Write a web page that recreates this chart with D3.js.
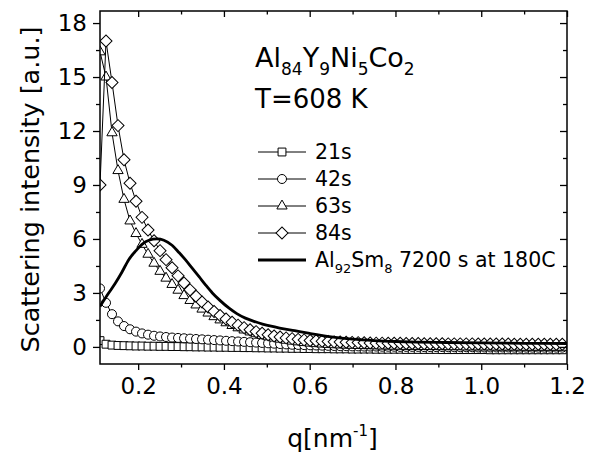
<!DOCTYPE html>
<html>
<head>
<meta charset="utf-8">
<script src="https://cdn.jsdelivr.net/npm/d3@7"></script>
<style>
  body { margin: 0; background: #fff; }
  text { font-family: "DejaVu Sans", Verdana, sans-serif; fill: #000; }
</style>
</head>
<body>
<div class="vis-saxs"></div>
<script>
// q grid shared by the four measured series
const qGrid = [0.111, 0.125, 0.139, 0.153, 0.167, 0.181, 0.195, 0.209, 0.223, 0.237,
  0.251, 0.265, 0.279, 0.293, 0.307, 0.321, 0.335, 0.349, 0.363, 0.377,
  0.391, 0.405, 0.419, 0.433, 0.447, 0.461, 0.475, 0.489, 0.503, 0.517,
  0.531, 0.545, 0.559, 0.573, 0.587, 0.601, 0.615, 0.629, 0.643, 0.657,
  0.671, 0.685, 0.699, 0.713, 0.727, 0.741, 0.755, 0.769, 0.783, 0.797,
  0.811, 0.825, 0.839, 0.853, 0.867, 0.881, 0.895, 0.909, 0.923, 0.937,
  0.951, 0.965, 0.979, 0.993, 1.007, 1.021, 1.035, 1.049, 1.063, 1.077,
  1.091, 1.105, 1.119, 1.133, 1.147, 1.161, 1.175, 1.189];

const s21 = [0.35, 0.15, 0.1, 0.08, 0.07, 0.06, 0.05, 0.05, 0.04, 0.04,
  0.03, 0.03, 0.02, 0.02, 0.01, 0.01, 0.0, 0.0, -0.01, -0.01,
  -0.02, -0.02, -0.03, -0.03, -0.04, -0.04, -0.05, -0.05, -0.06, -0.06,
  -0.07, -0.07, -0.08, -0.08, -0.09, -0.09, -0.1, -0.1, -0.1, -0.11,
  -0.11, -0.11, -0.12, -0.12, -0.12, -0.12, -0.13, -0.13, -0.13, -0.13,
  -0.13, -0.14, -0.14, -0.14, -0.14, -0.14, -0.14, -0.15, -0.15, -0.15,
  -0.15, -0.15, -0.15, -0.15, -0.15, -0.16, -0.16, -0.16, -0.16, -0.16,
  -0.16, -0.16, -0.16, -0.16, -0.16, -0.16, -0.16, -0.16];

const s42 = [3.25, 2.45, 1.82, 1.42, 1.16, 0.98, 0.85, 0.75, 0.68, 0.62,
  0.58, 0.55, 0.52, 0.5, 0.48, 0.46, 0.44, 0.42, 0.4, 0.38,
  0.36, 0.34, 0.32, 0.3, 0.28, 0.26, 0.24, 0.22, 0.2, 0.18,
  0.16, 0.14, 0.12, 0.11, 0.1, 0.09, 0.08, 0.07, 0.06, 0.05,
  0.04, 0.04, 0.03, 0.03, 0.02, 0.02, 0.02, 0.01, 0.01, 0.01,
  0.0, 0.0, 0.0, 0.0, -0.01, -0.01, -0.01, -0.01, -0.02, -0.02,
  -0.02, -0.02, -0.02, -0.03, -0.03, -0.03, -0.03, -0.03, -0.03, -0.04,
  -0.04, -0.04, -0.04, -0.04, -0.04, -0.04, -0.04, -0.04];

const s63 = [16.4, 15.0, 11.9, 9.8, 8.2, 7.0, 6.3, 5.7, 5.15, 4.65,
  4.2, 3.82, 3.47, 3.15, 2.85, 2.58, 2.33, 2.1, 1.88, 1.68,
  1.5, 1.34, 1.19, 1.06, 0.94, 0.83, 0.73, 0.64, 0.56, 0.49,
  0.43, 0.37, 0.32, 0.28, 0.24, 0.21, 0.18, 0.16, 0.14, 0.12,
  0.11, 0.1, 0.09, 0.08, 0.07, 0.07, 0.06, 0.05, 0.05, 0.04,
  0.04, 0.03, 0.03, 0.03, 0.02, 0.02, 0.02, 0.01, 0.01, 0.01,
  0.01, 0.0, 0.0, 0.0, 0.0, 0.0, -0.01, -0.01, -0.01, -0.01,
  -0.01, -0.02, -0.02, -0.02, -0.02, -0.02, -0.02, -0.02];

const s84 = [9.0, 17.0, 14.7, 12.3, 10.4, 9.1, 8.1, 7.2, 6.5, 5.9,
  5.35, 4.85, 4.4, 3.95, 3.55, 3.17, 2.82, 2.5, 2.22, 1.97,
  1.75, 1.55, 1.37, 1.21, 1.07, 0.95, 0.85, 0.76, 0.68, 0.61,
  0.55, 0.5, 0.46, 0.42, 0.39, 0.36, 0.34, 0.32, 0.3, 0.28,
  0.27, 0.26, 0.25, 0.24, 0.23, 0.22, 0.21, 0.21, 0.2, 0.2,
  0.2, 0.19, 0.19, 0.19, 0.18, 0.18, 0.18, 0.18, 0.17, 0.17,
  0.17, 0.17, 0.17, 0.16, 0.16, 0.16, 0.16, 0.16, 0.16, 0.15,
  0.15, 0.15, 0.15, 0.15, 0.15, 0.15, 0.15, 0.15];

// Al92Sm8 reference curve
const qAl = [0.111, 0.13, 0.147, 0.162, 0.178, 0.195, 0.209, 0.225, 0.244, 0.26,
  0.279, 0.295, 0.31, 0.325, 0.342, 0.357, 0.373, 0.39, 0.412, 0.43,
  0.45, 0.47, 0.49, 0.51, 0.53, 0.565, 0.6, 0.65, 0.7, 0.75,
  0.8, 0.85, 0.9, 1.0, 1.1, 1.2];
const iAl = [2.25, 2.95, 3.55, 4.15, 4.85, 5.35, 5.7, 5.93, 6.0, 5.93,
  5.65, 5.25, 4.85, 4.4, 3.9, 3.45, 3.0, 2.6, 2.15, 1.85,
  1.6, 1.42, 1.27, 1.15, 1.05, 0.9, 0.75, 0.56, 0.43, 0.35,
  0.3, 0.27, 0.25, 0.22, 0.2, 0.19];

const seriesNames = ['21s', '42s', '63s', '84s'];
const xTicks = [0.2, 0.4, 0.6, 0.8, 1.0, 1.2];
const yTicks = [0, 3, 6, 9, 12, 15, 18];

const W = 595, H = 455;
const margin = { top: 11, right: 28, bottom: 91, left: 100 };
const width = W - margin.left - margin.right;
const height = H - margin.top - margin.bottom;

const svg = d3.select('.vis-saxs')
    .append('svg')
    .attr('width', W)
    .attr('height', H)
    .append('g')
    .attr('transform', 'translate(' + margin.left + ',' + margin.top + ')');

const x = d3.scaleLinear().domain([0.111, 1.2]).range([0, width]);
const y = d3.scaleLinear().domain([-0.95, 18.67]).range([height, 0]);

// marker shapes
const markers = [
    { type: d3.symbolSquare, size: 62, rot: 0 },
    { type: d3.symbolCircle, size: 64, rot: 0 },
    { type: d3.symbolTriangle, size: 46, rot: 0 },
    { type: d3.symbolSquare, size: 72, rot: 45 }
];

svg.append('defs').append('clipPath')
    .attr('id', 'plotclip')
    .append('rect')
    .attr('width', width)
    .attr('height', height);

const plot = svg.append('g').attr('clip-path', 'url(#plotclip)');

const lineGen = d3.line()
    .x(d => x(d[0]))
    .y(d => y(d[1]));

[s21, s42, s63, s84].forEach((vals, i) => {
    const pts = qGrid.map((q, k) => [q, vals[k]]);
    const g = plot.append('g').attr('class', 'series_' + i);
    g.append('path')
        .attr('d', lineGen(pts))
        .attr('fill', 'none')
        .attr('stroke', '#000')
        .attr('stroke-width', 1);
    g.selectAll('.dot')
        .data(pts)
        .join('path')
        .attr('class', 'dot')
        .attr('transform', d => 'translate(' + x(d[0]) + ',' + y(d[1]) + ')rotate(' + markers[i].rot + ')')
        .attr('d', d3.symbol().type(markers[i].type).size(markers[i].size))
        .attr('fill', '#fff')
        .attr('stroke', '#000')
        .attr('stroke-width', 1);
});

plot.append('path')
    .attr('d', d3.line().x(d => x(d[0])).y(d => y(d[1])).curve(d3.curveMonotoneX)(qAl.map((q, k) => [q, iAl[k]])))
    .attr('fill', 'none')
    .attr('stroke', '#000')
    .attr('stroke-width', 2.8);

// axes
const fmt = d3.format('.1f');
const xMinor = d3.range(0.2, 1.21, 0.1).filter(v => Math.abs(v * 10 % 2 - 1) < 0.01);
const yMinor = d3.range(1.5, 18, 3);

svg.append('g')
    .attr('transform', 'translate(0,' + height + ')')
    .call(d3.axisBottom(x).tickValues(xTicks).tickFormat(fmt).tickSize(6).tickPadding(8).tickSizeOuter(0))
    .call(g => g.select('.domain').remove());
svg.append('g')
    .attr('transform', 'translate(0,' + height + ')')
    .call(d3.axisBottom(x).tickValues(xMinor).tickFormat('').tickSize(3.5).tickSizeOuter(0))
    .call(g => g.select('.domain').remove());
svg.append('g')
    .call(d3.axisBottom(x).tickValues(xTicks).tickFormat('').tickSize(6).tickSizeOuter(0))
    .call(g => g.select('.domain').remove());
svg.append('g')
    .call(d3.axisBottom(x).tickValues(xMinor).tickFormat('').tickSize(3.5).tickSizeOuter(0))
    .call(g => g.select('.domain').remove());

svg.append('g')
    .call(d3.axisLeft(y).tickValues(yTicks).tickSize(7).tickPadding(6).tickSizeOuter(0))
    .call(g => g.select('.domain').remove());
svg.append('g')
    .call(d3.axisLeft(y).tickValues(yMinor).tickFormat('').tickSize(4).tickSizeOuter(0))
    .call(g => g.select('.domain').remove());
svg.append('g')
    .attr('transform', 'translate(' + width + ',0)')
    .call(d3.axisLeft(y).tickValues(yTicks).tickFormat('').tickSize(7).tickSizeOuter(0))
    .call(g => g.select('.domain').remove());
svg.append('g')
    .attr('transform', 'translate(' + width + ',0)')
    .call(d3.axisLeft(y).tickValues(yMinor).tickFormat('').tickSize(4).tickSizeOuter(0))
    .call(g => g.select('.domain').remove());

svg.selectAll('.tick line').attr('stroke', '#000').attr('stroke-width', 1.3);
svg.selectAll('.tick text')
    .style('font-family', '"DejaVu Sans", Verdana, sans-serif')
    .style('font-size', '23px')
    .attr('fill', '#000');

svg.append('rect')
    .attr('width', width)
    .attr('height', height)
    .attr('fill', 'none')
    .attr('stroke', '#000')
    .attr('stroke-width', 1.5);

// axis titles
svg.append('text')
    .attr('transform', 'translate(' + (-61) + ',' + (height / 2 + 2) + ')rotate(-90)')
    .attr('text-anchor', 'middle')
    .style('font-size', '25.5px')
    .text('Scattering intensity [a.u.]');

const xt = svg.append('text')
    .attr('x', width / 2 - 1)
    .attr('y', height + 83)
    .attr('text-anchor', 'middle')
    .style('font-size', '25px');
xt.append('tspan').text('q[nm');
xt.append('tspan').attr('dy', -11).style('font-size', '15px').text('-1');
xt.append('tspan').attr('dy', 11).text(']');

// annotation
const title = svg.append('text')
    .attr('x', 155)
    .attr('y', 56)
    .style('font-size', '27px');
[['Al', 0], ['84', 1], ['Y', 0], ['9', 1], ['Ni', 0], ['5', 1], ['Co', 0], ['2', 1]].forEach((p, i, arr) => {
    const prevSub = i > 0 && arr[i - 1][1] === 1;
    title.append('tspan')
        .attr('dy', p[1] ? 8 : (prevSub ? -8 : 0))
        .style('font-size', p[1] ? '17px' : '27px')
        .text(p[0]);
});
svg.append('text')
    .attr('x', 155)
    .attr('y', 97)
    .style('font-size', '26px')
    .text('T=608 K');

// legend
const legend = svg.append('g').attr('transform', 'translate(158,141)');
const rowH = 27;
seriesNames.forEach((name, i) => {
    const row = legend.append('g').attr('transform', 'translate(0,' + (i * rowH) + ')');
    row.append('line').attr('x1', 0).attr('x2', 48).attr('stroke', '#000').attr('stroke-width', 1);
    row.append('path')
        .attr('transform', 'translate(24,0)rotate(' + markers[i].rot + ')')
        .attr('d', d3.symbol().type(markers[i].type).size(markers[i].size))
        .attr('fill', '#fff')
        .attr('stroke', '#000');
    row.append('text').attr('x', 57).attr('y', 7).style('font-size', '20.5px').text(name);
});
const lastRow = legend.append('g').attr('transform', 'translate(0,' + (4 * rowH) + ')');
lastRow.append('line').attr('x1', 0).attr('x2', 48).attr('stroke', '#000').attr('stroke-width', 2.8);
const lt = lastRow.append('text').attr('x', 57).attr('y', 7).style('font-size', '20.5px');
lt.append('tspan').text('Al');
lt.append('tspan').attr('dy', 6).style('font-size', '13px').text('92');
lt.append('tspan').attr('dy', -6).text('Sm');
lt.append('tspan').attr('dy', 6).style('font-size', '13px').text('8');
lt.append('tspan').attr('dy', -6).text(' 7200 s at 180C');
</script>
</body>
</html>
